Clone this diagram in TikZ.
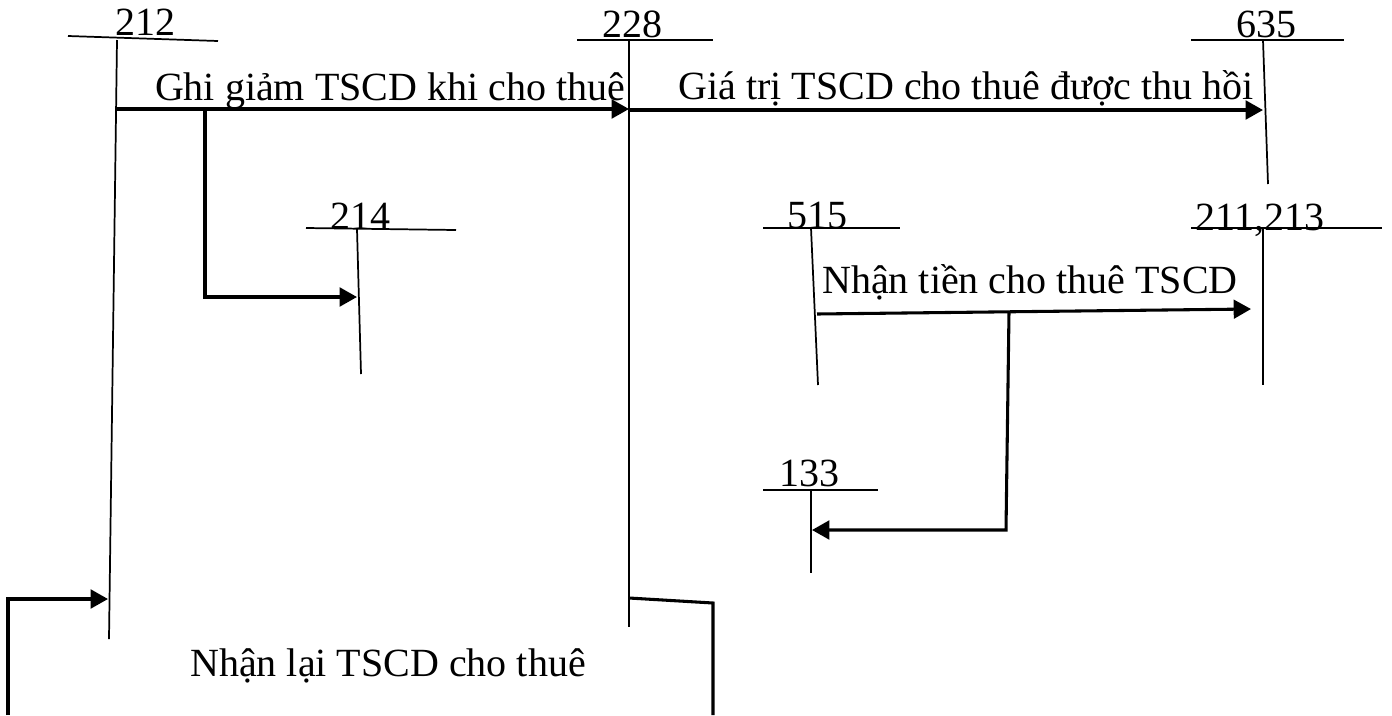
\documentclass[tikz,border=0pt]{standalone}
\usepackage{fontspec}
\setmainfont{Liberation Serif}
\usetikzlibrary{arrows.meta}

\tikzset{
  taikhoan/.style={line width=1.3pt},
  butToan/.style={line width=2.3pt,-{Triangle[length=13pt,width=14pt]}},
  nhanh/.style={line width=2.3pt},
  sohieu/.style={font=\fontsize{30}{36}\selectfont,inner sep=0pt,anchor=base},
  dienGiai/.style={font=\fontsize{30}{36}\selectfont,inner sep=0pt,anchor=base},
}

\begin{document}
\begin{tikzpicture}[x=0.75pt,y=-0.75pt]
  \useasboundingbox (0,0) rectangle (1392,715);
  % so hieu tai khoan
  \node[sohieu] (n212) at (145,35) {212};
  \node[sohieu] (n228) at (632,37) {228};
  \node[sohieu] (n635) at (1266,37) {635};
  \node[sohieu] (n214) at (360,229) {214};
  \node[sohieu] (n515) at (817,228) {515};
  \node[sohieu] (n211) at (1260,230) {211,213};
  \node[sohieu] (n133) at (809,486) {133};
  % tai khoan chu T
  \draw[taikhoan] (68,36) -- (218,41);
  \draw[taikhoan] (117,40) -- (109,639);
  \draw[taikhoan] (577,40) -- (713,40);
  \draw[taikhoan] (629,40) -- (629,627);
  \draw[taikhoan] (1191,40) -- (1344,40);
  \draw[taikhoan] (1263,40) -- (1268,184);
  \draw[taikhoan] (306,228) -- (456,230);
  \draw[taikhoan] (357,229) -- (361,374);
  \draw[taikhoan] (763,228) -- (900,228);
  \draw[taikhoan] (811,228) -- (818,385);
  \draw[taikhoan] (1191,228) -- (1382,228);
  \draw[taikhoan] (1263,228) -- (1263,385);
  \draw[taikhoan] (763,490) -- (878,490);
  \draw[taikhoan] (811,490) -- (811,573);
  % diem dau cuoi but toan
  \coordinate (a212) at (117,109);
  \coordinate (a228) at (629,109);
  \coordinate (b228) at (629,110);
  \coordinate (b635) at (1263,110);
  \coordinate (r212) at (205,109);
  \coordinate (a214) at (357,297);
  \coordinate (a515) at (817,314);
  \coordinate (a211) at (1251,309);
  \coordinate (r515) at (1009,312);
  \coordinate (g133) at (1006,530);
  \coordinate (a133) at (812,530);
  \coordinate (g0) at (8,715);
  \coordinate (g1) at (8,599);
  \coordinate (b212) at (108,599);
  \coordinate (c228) at (629,598);
  \coordinate (g2) at (713,603);
  \coordinate (g3) at (713,715);
  % but toan
  \draw[butToan] (a212) -- (a228);
  \draw[butToan] (b228) -- (b635);
  \draw[butToan] (r212) |- (a214);
  \draw[butToan] (a515) -- (a211);
  \draw[butToan] (r515) -- (g133) -- (a133);
  \draw[butToan] (g0) -- (g1) -- (b212);
  \draw[nhanh] (c228) -- (g2) -- (g3);
  % dien giai
  \node[dienGiai] (l1) at (390,100) {Ghi giảm TSCD khi cho thuê};
  \node[dienGiai] (l2) at (966,99) {Giá trị TSCD cho thuê được thu hồi};
  \node[dienGiai] (l3) at (1030,293) {Nhận tiền cho thuê TSCD};
  \node[dienGiai] (l4) at (388,676) {Nhận lại TSCD cho thuê};
\end{tikzpicture}
\end{document}
